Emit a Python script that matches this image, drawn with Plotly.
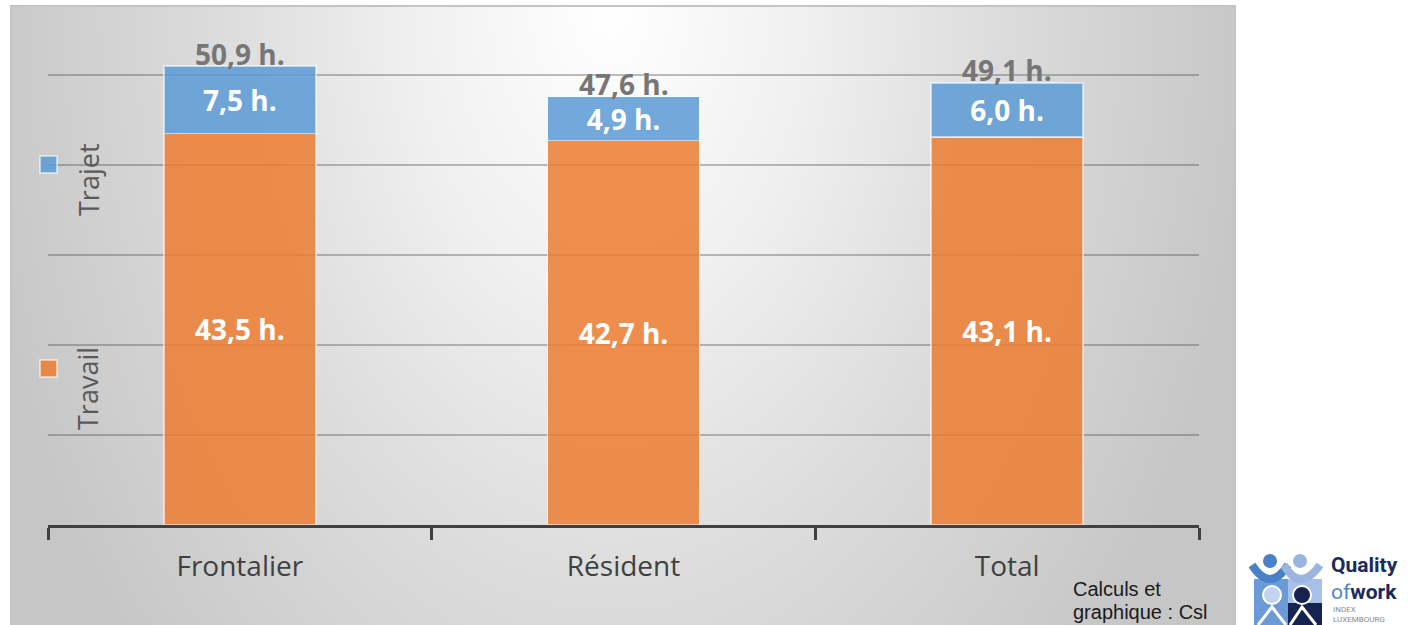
import base64
import plotly.graph_objects as go

categories = ["Frontalier", "Résident", "Total"]
travail = [43.5, 42.7, 43.1]
trajet = [7.5, 4.9, 6.0]
totaux = [50.9, 47.6, 49.1]
series_names = ["Travail", "Trajet"]

W, H = 1411, 625
ORANGE = "rgba(237,125,49,0.85)"
BLUE = "rgba(91,155,213,0.85)"
FONT = "Open Sans"


def fmt(v):
    return f"{v:.1f}".replace(".", ",") + " h."


def px(x):
    return x / W


def py(y):
    return 1 - y / H


fig = go.Figure()
for name, vals, col in [(series_names[0], travail, ORANGE), (series_names[1], trajet, BLUE)]:
    fig.add_trace(go.Bar(
        x=categories, y=vals, name=name,
        marker=dict(color=col, line=dict(color="rgba(255,255,255,0.55)", width=1.5)),
        text=[fmt(v) for v in vals], textposition="inside", insidetextanchor="middle",
        textfont=dict(family=FONT, size=28, color="white", weight="bold"),
        hoverinfo="skip",
    ))

annotations = []
for c, t in zip(categories, totaux):
    annotations.append(dict(x=c, y=t, xref="x", yref="y", text=fmt(t), showarrow=False,
                            xanchor="center", yanchor="bottom", yshift=-8,
                            font=dict(family=FONT, size=28, color="#767676", weight="bold")))


def pnote(x, y, text, font, xanchor="center", angle=0):
    annotations.append(dict(x=px(x), y=py(y), xref="paper", yref="paper", text=text,
                            xanchor=xanchor, yanchor="middle", textangle=angle,
                            showarrow=False, font=font))


# legend (vertical text)
leg_font = dict(family=FONT, size=27, color="#595959")
pnote(88, 180, "Trajet", leg_font, angle=-90)
pnote(88, 389, "Travail", leg_font, angle=-90)

# source
src_font = dict(family="Liberation Sans", size=20, color="#1a1a1a")
pnote(1071, 589, "Calculs et", src_font, xanchor="left")
pnote(1071, 612, "graphique : Csl", src_font, xanchor="left")

# logo texts
pnote(1329, 565, "<b>Quality</b>", dict(family="Roboto", size=21, color="#1b2a5c"), xanchor="left")
pnote(1329, 592, "<span style='color:#4f86cc'>of</span><b>work</b>",
      dict(family="Roboto", size=21, color="#1b2a5c"), xanchor="left")
pnote(1331, 609, "INDEX", dict(family="Roboto", size=8, color="#8a8a8a"), xanchor="left")
pnote(1331, 619, "LUXEMBOURG", dict(family="Roboto", size=8, color="#8a8a8a"), xanchor="left")

# legend squares
shapes = []
for y0, col in [(156, BLUE), (360, ORANGE)]:
    shapes.append(dict(type="rect", xref="paper", yref="paper",
                       x0=px(40), x1=px(57), y0=py(y0 + 17), y1=py(y0),
                       fillcolor=col, line=dict(color="rgba(255,255,255,0.7)", width=1.5)))

# background panel with radial gradient
bg_svg = """<svg xmlns='http://www.w3.org/2000/svg' width='1226' height='620' viewBox='0 0 1226 620'>
<defs><radialGradient id='g' gradientUnits='userSpaceOnUse' cx='600' cy='0' r='650'
 gradientTransform='translate(600,0) scale(1,1.5) translate(-600,0)'>
<stop offset='0' stop-color='#ffffff'/><stop offset='0.3' stop-color='#f0f0f0'/>
<stop offset='0.6' stop-color='#dcdcdc'/><stop offset='1' stop-color='#c6c6c6'/>
</radialGradient></defs>
<rect x='1' y='1' width='1224' height='622' fill='url(#g)' stroke='#c4c4c4' stroke-width='2'/>
</svg>"""

logo_svg = """<svg xmlns='http://www.w3.org/2000/svg' width='80' height='72' viewBox='0 0 80 72'>
<rect x='6' y='26' width='34' height='46' fill='#6b9ad6'/>
<rect x='40' y='26' width='34' height='24' fill='#a8c0e8'/>
<rect x='40' y='50' width='34' height='22' fill='#16234f'/>
<path d='M4,12 Q22,40 40,12' stroke='#4a80c8' stroke-width='8' fill='none'/>
<path d='M36,12 Q52,40 72,12' stroke='#9ab5e0' stroke-width='8' fill='none'/>
<circle cx='22' cy='8' r='7' fill='#4a80c8'/>
<circle cx='52' cy='8' r='7' fill='#9ab5e0'/>
<circle cx='24' cy='42' r='9' fill='#c4d4ef' stroke='white' stroke-width='2'/>
<circle cx='54' cy='42' r='9' fill='#16234f' stroke='white' stroke-width='2'/>
<path d='M10,72 L24,54 L38,72' stroke='white' stroke-width='3' fill='none'/>
<path d='M42,72 L54,54 L68,72' stroke='white' stroke-width='3' fill='none'/>
</svg>"""


def uri(s):
    return "data:image/svg+xml;base64," + base64.b64encode(s.encode()).decode()


images = [
    dict(source=uri(bg_svg), xref="paper", yref="paper", x=px(10), y=py(5),
         sizex=1226 / W, sizey=620 / H, xanchor="left", yanchor="top",
         sizing="stretch", layer="below"),
    dict(source=uri(logo_svg), xref="paper", yref="paper", x=px(1248), y=py(553),
         sizex=80 / W, sizey=72 / H, xanchor="left", yanchor="top",
         sizing="stretch", layer="above"),
]

fig.update_layout(
    width=W, height=H, margin=dict(l=0, r=0, t=0, b=0),
    paper_bgcolor="white", plot_bgcolor="rgba(0,0,0,0)",
    barmode="stack", bargap=0.604, showlegend=False,
    annotations=annotations, shapes=shapes, images=images,
    xaxis=dict(domain=[px(48), px(1199)], showline=True, linecolor="#404040", linewidth=3,
               ticks="outside", tickson="boundaries", ticklen=12, tickwidth=3,
               tickcolor="#404040", showgrid=False,
               tickfont=dict(family=FONT, size=28, color="#404040"),
               ticklabelstandoff=14),
    yaxis=dict(domain=[py(525), py(30)], range=[0, 55], dtick=10, showticklabels=False,
               showgrid=True, gridcolor="rgba(60,60,60,0.33)", gridwidth=2,
               zeroline=False, showline=False),
)

fig.write_html("out.html", config={"displayModeBar": False},
               post_script="document.body.style.margin='0';document.body.style.overflow='hidden';")
